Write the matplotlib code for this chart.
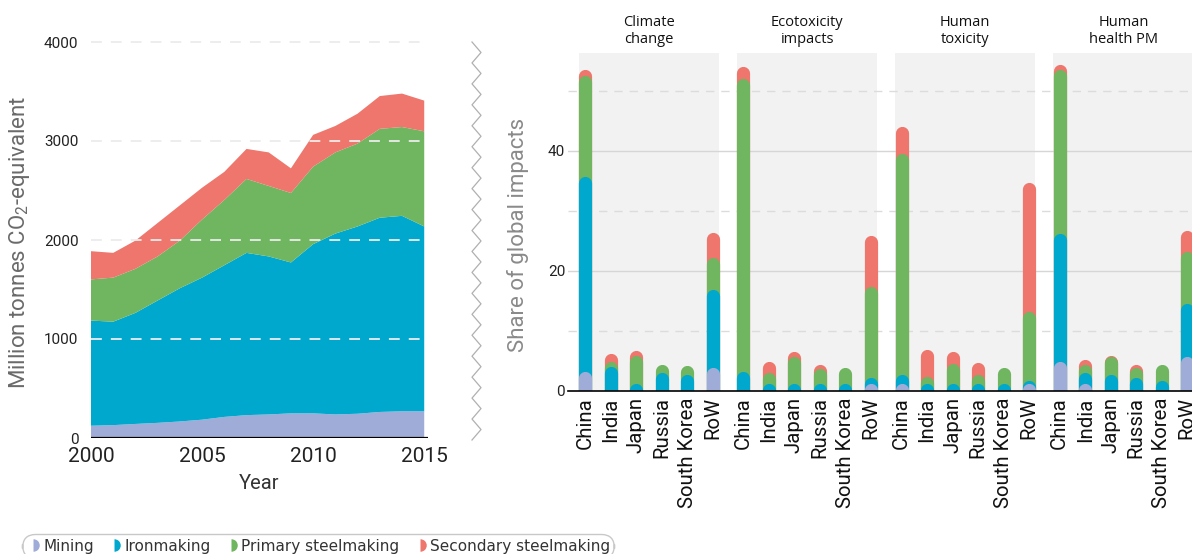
import numpy as np
import matplotlib
matplotlib.use("Agg")
import matplotlib.pyplot as plt
from matplotlib.path import Path
from matplotlib.lines import Line2D

plt.rcParams['font.family'] = ['Roboto', 'DejaVu Sans']
plt.rcParams['mathtext.default'] = 'regular'

# left panel: emissions by stage, Mt CO2-eq
years = list(range(2000, 2016))
mining_mt = [124, 130, 142, 153, 167, 185, 213, 231, 238, 249, 249, 238, 245, 263, 270, 270]
ironmaking_mt = [1062, 1045, 1122, 1236, 1346, 1435, 1532, 1639, 1596, 1524, 1709, 1827, 1892, 1962, 1974, 1867]
primary_mt = [416, 445, 445, 445, 481, 587, 659, 747, 712, 702, 783, 820, 837, 898, 897, 961]
secondary_mt = [285, 250, 285, 338, 356, 321, 284, 303, 339, 249, 321, 267, 302, 331, 338, 310]

# right panel: share of global impacts (%), one row per impact category
categories = ['Climate\nchange', 'Ecotoxicity\nimpacts', 'Human\ntoxicity', 'Human\nhealth PM']
countries = ['China', 'India', 'Japan', 'Russia', 'South Korea', 'RoW']
mining_share = [[2.2, 0, 0, 0.05, 0, 2.9],
                [0.05, 0, 0, 0, 0, 0.1],
                [0.1, 0, 0, 0, 0, 0.1],
                [3.8, 0.1, 0, 0.05, 0, 4.7]]
ironmaking_share = [[32.4, 3.0, 0.1, 1.95, 1.6, 13.0],
                    [2.15, 0.1, 0.1, 0.1, 0.1, 1.0],
                    [1.6, 0.1, 0.1, 0.1, 0.1, 0.5],
                    [21.4, 1.9, 1.7, 1.15, 0.7, 8.8]]
primary_share = [[16.8, 0.8, 4.7, 1.4, 1.5, 5.3],
                 [48.8, 1.9, 4.6, 2.5, 2.7, 15.2],
                 [36.7, 1.2, 3.4, 1.6, 2.7, 11.6],
                 [27.2, 1.4, 2.9, 1.7, 2.6, 8.6]]
secondary_share = [[1.1, 1.4, 0.9, 0, 0, 4.2],
                   [2.0, 1.8, 0.8, 0.7, 0, 8.6],
                   [4.5, 4.6, 2.0, 1.9, 0, 21.4],
                   [0.9, 0.8, 0.2, 0.4, 0, 3.6]]

stage_names = ['Mining', 'Ironmaking', 'Primary steelmaking', 'Secondary steelmaking']
colors = ['#a0acd8', '#00a8ce', '#70b560', '#ee766c']

W, H = 1192, 554
fig = plt.figure(figsize=(W / 100, H / 100), dpi=100)

# ---- left: stacked area
ax1 = fig.add_axes([91 / W, 1 - 438 / H, 337 / W, 405.9 / H])
ax1.stackplot(years, mining_mt, ironmaking_mt, primary_mt, secondary_mt, colors=colors, lw=0)
ax1.set_xlim(2000, 2015.17)
ax1.set_ylim(0, 4100)
for y in [1000, 2000, 3000, 4000]:
    ax1.axhline(y, color='#ececec', lw=1.3, ls=(0, (6, 5)), zorder=3)
ax1.axhline(0, color='black', lw=1.6, zorder=4)
for s in ax1.spines.values():
    s.set_visible(False)
ax1.set_xticks([2000, 2005, 2010, 2015])
ax1.set_yticks([0, 1000, 2000, 3000, 4000])
ax1.tick_params(axis='x', labelsize=15, length=0, pad=6.5, labelcolor='#222222')
ax1.tick_params(axis='y', labelsize=11, length=0, pad=9, labelcolor='#222222')
ax1.set_xlabel('Year', fontsize=14.5, color='#333333', labelpad=5.5)
fig.text(20 / W, 1 - 242 / H, 'Million tonnes CO$_2$-equivalent', rotation=90,
         ha='center', va='center', fontsize=16, color='#6a6a6a')

# zigzag separator
zy = np.linspace(42, 440, 39)
zx = np.where(np.arange(39) % 2 == 0, 472, 481)
fig.add_artist(Line2D(zx / W, 1 - zy / H, transform=fig.transFigure, color='#b0b0b0', lw=0.9))

# ---- right: faceted rounded bars
step = 6.2
ax2 = fig.add_axes([568 / W, 1 - 391 / H, 625.5 / W, 338 / H])
ax2.set_xlim(-0.68, 23.85)
ax2.set_ylim(0, 56.3)
for p in range(len(categories)):
    ax2.axvspan(p * step - 0.25, p * step + 5.25, color='#f2f2f2', lw=0, zorder=0)
for y in [20, 40]:
    ax2.axhline(y, color='#d6d6d6', lw=1, zorder=1)
for y in [10, 30, 50]:
    ax2.axhline(y, color='#dcdcdc', lw=1, ls=(0, (6, 5)), zorder=1)

stages = [mining_share, ironmaking_share, primary_share, secondary_share]
xpos, xlabels = [], []
for p, cat in enumerate(categories):
    x = p * step + np.arange(len(countries))
    xpos.extend(x)
    xlabels.extend(countries)
    cum = np.cumsum([np.array(s[p]) for s in stages], axis=0)
    for k in range(3, -1, -1):
        keep = np.array(stages[k][p]) > 0
        ax2.vlines(x[keep], 0, cum[k][keep], colors=colors[k], linewidth=9.5,
                   capstyle='round', zorder=2 + (3 - k))
    ax2.text(p * step + 2.5, 1 + 22 / 338, cat, transform=ax2.get_xaxis_transform(),
             ha='center', va='center', fontsize=10.5, family=['Open Sans', 'DejaVu Sans'],
             color='#111111', linespacing=1.1)

for s in ['top', 'right', 'left']:
    ax2.spines[s].set_visible(False)
ax2.spines['bottom'].set_color('black')
ax2.spines['bottom'].set_linewidth(1.2)
ax2.spines['bottom'].set_zorder(10)
ax2.set_xticks(xpos)
ax2.set_xticklabels(xlabels, rotation=90)
ax2.set_yticks([0, 20, 40])
ax2.tick_params(axis='x', labelsize=14.7, length=0, pad=4.5, labelcolor='#111111')
ax2.tick_params(axis='y', labelsize=11, length=0, pad=2, labelcolor='#222222')
fig.text(518 / W, 1 - 235 / H, 'Share of global impacts', rotation=90,
         ha='center', va='center', fontsize=16, color='#8a8a8a')

# ---- legend
half = Path.wedge(-90, 90)
handles = [Line2D([], [], marker=half, ls='none', markersize=9, color=c, markeredgewidth=0)
           for c in colors]
leg = fig.legend(handles, stage_names, loc='center', bbox_to_anchor=(318 / W, 8 / H), ncol=4,
                 frameon=True, prop={'family': 'DejaVu Sans', 'size': 11},
                 handletextpad=0.2, columnspacing=0.9, handlelength=0.9, borderpad=0.3,
                 edgecolor='#bbbbbb', labelcolor='#333333')
leg.get_frame().set_boxstyle('round', pad=0, rounding_size=0.9)
leg.get_frame().set_linewidth(1)

fig.savefig('out.png', dpi=100)
